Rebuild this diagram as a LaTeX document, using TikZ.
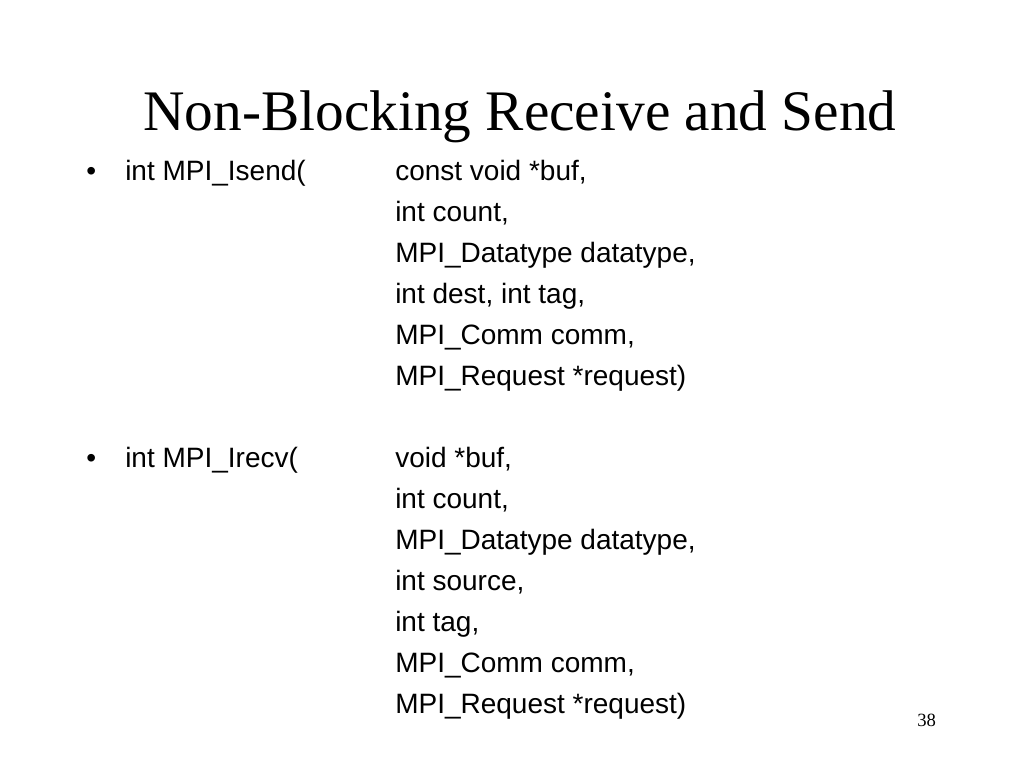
\documentclass[tikz,border=0pt]{standalone}
\usepackage{fontspec}
\setmainfont{Liberation Serif}
\newfontfamily\arialf{Liberation Sans}
\begin{document}
\begin{tikzpicture}[x=0.75pt,y=-0.75pt,
  body/.style={anchor=base west,inner sep=0pt,font=\arialf\fontsize{21}{25}\selectfont}]
\useasboundingbox (0,0) rectangle (1024,768);
\node[anchor=base,inner sep=0pt,font=\fontsize{43}{50}\selectfont] (title) at (520,130) {Non-Blocking Receive and Send};
\node[body] (b1) at (86,180) {•};
\node[body] (f1) at (125,180) {int MPI\_Isend(};
\foreach \t [count=\i] in {const void *buf,,int count\string,,MPI\_Datatype datatype\string,,int dest\string, int tag\string,,MPI\_Comm comm\string,,MPI\_Request *request)}{}
\node[body] (s1) at (395,180) {const void *buf,};
\node[body] (s2) at (395,221) {int count,};
\node[body] (s3) at (395,262) {MPI\_Datatype datatype,};
\node[body] (s4) at (395,303) {int dest, int tag,};
\node[body] (s5) at (395,344) {MPI\_Comm comm,};
\node[body] (s6) at (395,385) {MPI\_Request *request)};
\node[body] (b2) at (86,467) {•};
\node[body] (f2) at (125,467) {int MPI\_Irecv(};
\node[body] (r1) at (395,467) {void *buf,};
\node[body] (r2) at (395,508) {int count,};
\node[body] (r3) at (395,549) {MPI\_Datatype datatype,};
\node[body] (r4) at (395,590) {int source,};
\node[body] (r5) at (395,631) {int tag,};
\node[body] (r6) at (395,672) {MPI\_Comm comm,};
\node[body] (r7) at (395,713) {MPI\_Request *request)};
\node[anchor=base west,inner sep=0pt,font=\fontsize{14}{16}\selectfont] (pg) at (917,726) {38};
\end{tikzpicture}
\end{document}
